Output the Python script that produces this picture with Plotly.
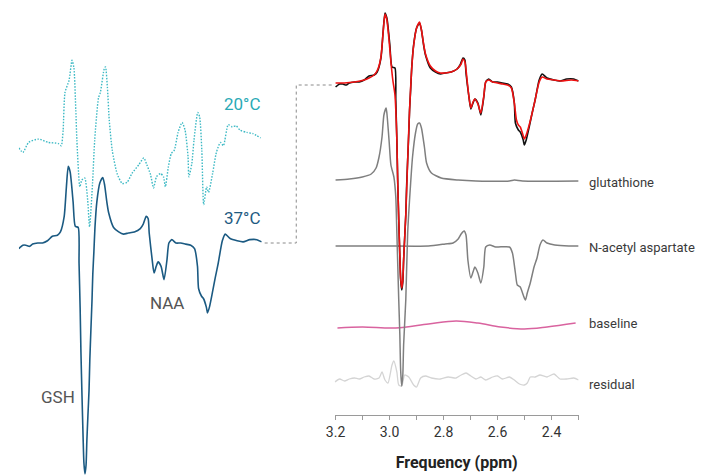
import plotly.graph_objects as go

# ---------------- measured spectra (ppm, intensity in a.u.) ----------------
# In-vivo spectrum at 37 °C (also shown as the fitted data on the right)
ppm_data = [3.200, 3.185, 3.174, 3.160, 3.149, 3.130, 3.112, 3.094, 3.076, 3.057,
            3.046, 3.032, 3.024, 3.017, 3.010, 2.999, 2.991, 2.980, 2.977, 2.973,
            2.970, 2.966, 2.962, 2.959, 2.955, 2.951, 2.948, 2.944, 2.940, 2.937,
            2.933, 2.929, 2.926, 2.922, 2.918, 2.911, 2.900, 2.889, 2.882, 2.874,
            2.867, 2.849, 2.830, 2.812, 2.794, 2.772, 2.750, 2.739, 2.728, 2.721,
            2.717, 2.706, 2.699, 2.691, 2.684, 2.673, 2.662, 2.651, 2.644, 2.633,
            2.618, 2.600, 2.582, 2.563, 2.549, 2.538, 2.534, 2.523, 2.516, 2.505,
            2.501, 2.494, 2.483, 2.472, 2.461, 2.446, 2.435, 2.417, 2.391, 2.369,
            2.344, 2.318, 2.300]
int_data = [-5, -2, -2, -3, -1, 0, 0, 2, 6, 7,
            10, 24, 50, 69, 64, 37, 15, 14, -18, -58,
            -98, -138, -175, -198, -208, -200, -178, -155, -133, -105,
            -78, -52, -28, -8, 14, 37, 54, 59, 52, 37,
            27, 14, 10, 8, 9, 10, 13, 17, 24, 22,
            9, -15, -27, -21, -17, -21, -33, -15, 0, 3,
            0, 0, -1, -2, -5, -21, -41, -48, -50, -58,
            -63, -58, -45, -31, -18, 2, 8, 4, 2, 1,
            3, 3, 1]

# Model fit
ppm_fit = [3.200, 3.167, 3.130, 3.094, 3.076, 3.057, 3.043, 3.032, 3.024, 3.017,
           3.010, 3.002, 2.995, 2.988, 2.980, 2.973, 2.970, 2.966, 2.962, 2.959,
           2.955, 2.951, 2.948, 2.940, 2.933, 2.926, 2.918, 2.911, 2.900, 2.889,
           2.882, 2.874, 2.867, 2.849, 2.830, 2.812, 2.794, 2.772, 2.750, 2.735,
           2.728, 2.721, 2.713, 2.706, 2.699, 2.691, 2.684, 2.673, 2.662, 2.651,
           2.644, 2.633, 2.618, 2.582, 2.563, 2.549, 2.538, 2.530, 2.523, 2.516,
           2.508, 2.501, 2.494, 2.483, 2.472, 2.461, 2.446, 2.435, 2.417, 2.391,
           2.364, 2.327, 2.300]
int_fit = [-1, -1, 0, 2, 4, 7, 13, 25, 49, 68,
           62, 42, 20, 2, -13, -58, -98, -138, -173, -196,
           -206, -198, -178, -133, -78, -28, 14, 36, 54, 60,
           52, 38, 28, 16, 11, 9, 9, 10, 13, 18,
           23, 20, 2, -15, -26, -20, -17, -22, -31, -14,
           0, 2, 0, -2, -3, -6, -21, -38, -43, -45,
           -51, -57, -53, -43, -31, -18, 0, 5, 3, 2,
           1, 2, 1]

# Glutathione component
ppm_gsh = [3.200, 3.149, 3.101, 3.068, 3.050, 3.039, 3.028, 3.021, 3.013, 3.010,
           3.002, 2.995, 2.984, 2.977, 2.973, 2.966, 2.962, 2.959, 2.955, 2.951,
           2.948, 2.940, 2.933, 2.922, 2.915, 2.904, 2.896, 2.889, 2.882, 2.871,
           2.863, 2.845, 2.809, 2.746, 2.680, 2.556, 2.538, 2.508, 2.300]
int_gsh = [0, 1, 3, 6, 12, 23, 43, 65, 72, 67,
           40, 15, 3, -17, -53, -120, -155, -190, -206, -195,
           -165, -120, -53, -3, 23, 47, 56, 57, 52, 33,
           17, 7, 2, 0, -1, -1, 0, -1, -1]

# N-acetyl aspartate component
ppm_naa = [3.200, 3.021, 2.856, 2.794, 2.765, 2.746, 2.735, 2.724, 2.717, 2.710,
           2.699, 2.691, 2.684, 2.673, 2.662, 2.651, 2.644, 2.629, 2.607, 2.556,
           2.545, 2.534, 2.527, 2.516, 2.505, 2.497, 2.490, 2.479, 2.465, 2.454,
           2.443, 2.432, 2.417, 2.388, 2.336, 2.300]
int_naa = [0, 0, 0, 2, 3, 7, 12, 15, 11, -14,
           -32, -26, -21, -27, -37, -21, -1, 1, -1, -1,
           -7, -27, -39, -41, -49, -54, -47, -37, -21, -12,
           1, 6, 3, 1, 0, 0]

# Baseline component
ppm_base = [3.193, 3.101, 2.977, 2.856, 2.754, 2.673, 2.589, 2.501, 2.417, 2.311]
int_base = [-3, -2, -3, 1, 4, 2, -2, -4, -2, 2]

# Residual
ppm_res = [3.203, 3.185, 3.167, 3.149, 3.130, 3.112, 3.094, 3.076, 3.057, 3.039,
           3.028, 3.017, 3.006, 2.991, 2.984, 2.973, 2.966, 2.955, 2.944, 2.929,
           2.911, 2.900, 2.885, 2.867, 2.845, 2.812, 2.783, 2.754, 2.735, 2.717,
           2.699, 2.680, 2.662, 2.644, 2.618, 2.600, 2.582, 2.556, 2.538, 2.519,
           2.501, 2.490, 2.479, 2.461, 2.443, 2.417, 2.391, 2.369, 2.344, 2.318,
           2.300]
int_res = [-2, 1, -1, 1, 2, 1, 3, 4, 1, 2,
           8, 0, -3, 15, 19, 8, -5, -6, 5, 3,
           -5, -7, 2, 4, 2, 1, 3, 2, 5, 7,
           4, 1, 3, 0, 3, 4, 1, 3, 0, -4,
           -5, -3, 3, 3, 5, 3, 6, 1, 1, 2,
           0]

# Spectrum acquired at 20 °C
ppm_20 = [3.200, 3.185, 3.164, 3.127, 3.091, 3.054, 3.043, 3.036, 3.029, 3.014,
          3.003, 2.996, 2.989, 2.985, 2.974, 2.967, 2.956, 2.945, 2.938, 2.927,
          2.919, 2.905, 2.898, 2.883, 2.879, 2.872, 2.865, 2.854, 2.836, 2.817,
          2.799, 2.781, 2.755, 2.737, 2.726, 2.712, 2.701, 2.690, 2.675, 2.664,
          2.657, 2.646, 2.635, 2.624, 2.610, 2.595, 2.584, 2.573, 2.570, 2.559,
          2.551, 2.537, 2.530, 2.522, 2.515, 2.504, 2.497, 2.482, 2.468, 2.453,
          2.442, 2.424, 2.409, 2.395, 2.380, 2.355, 2.333, 2.304]
int_20 = [0, -4, 5, 8, 5, 4, 2, 16, 50, 61,
          79, 72, 34, 7, -35, -29, -27, -47, -71, -32,
          7, 45, 50, 72, 73, 55, 25, -2, -23, -32,
          -31, -23, -15, -9, -15, -24, -36, -26, -23, -26,
          -35, -17, -5, -2, 14, 23, 16, -8, -26, -14,
          7, 32, 28, -2, -51, -35, -40, -23, -4, 5,
          2, 21, 19, 20, 16, 14, 13, 9]

# Axis ticks and labels
tick_ppm = [3.2, 3.1, 3.0, 2.9, 2.8, 2.7, 2.6, 2.5, 2.4, 2.3]
tick_txt = ["3.2", "", "3.0", "", "2.8", "", "2.6", "", "2.4", ""]
component_names = ["glutathione", "N-acetyl aspartate", "baseline", "residual"]

# ---------------- layout constants ----------------
W, H = 701, 475
FONT = "Roboto, Liberation Sans, sans-serif"

# vertical stacking of the traces in the right panel
off_data, off_gsh, off_naa, off_base, off_res = 333, 235, 169, 90, 35
# vertical placement of the two spectra in the left panel
off_37, off_20 = 0, 85.6


def shift(vals, off):
    return [v + off for v in vals]


fig = go.Figure()

# ---- left panel: temperature comparison ----
fig.add_trace(go.Scatter(x=ppm_20, y=shift(int_20, off_20), mode="lines",
                         line=dict(color="#3cb9c4", width=1.4, dash="1.5px,1.5px",
                                   shape="spline", smoothing=0.6),
                         xaxis="x", yaxis="y", hoverinfo="skip"))
fig.add_trace(go.Scatter(x=ppm_data, y=shift(int_data, off_37), mode="lines",
                         line=dict(color="#1b5a82", width=1.6, shape="spline", smoothing=0.6),
                         xaxis="x", yaxis="y", hoverinfo="skip"))

# ---- right panel: fit decomposition ----
fig.add_trace(go.Scatter(x=ppm_base, y=shift(int_base, off_base), mode="lines",
                         line=dict(color="#d9639f", width=1.5, shape="spline", smoothing=1.0),
                         xaxis="x2", yaxis="y2", hoverinfo="skip"))
fig.add_trace(go.Scatter(x=ppm_res, y=shift(int_res, off_res), mode="lines",
                         line=dict(color="#d4d4d4", width=1.3, shape="spline", smoothing=0.6),
                         xaxis="x2", yaxis="y2", hoverinfo="skip"))
fig.add_trace(go.Scatter(x=ppm_naa, y=shift(int_naa, off_naa), mode="lines",
                         line=dict(color="#7f7f7f", width=1.5, shape="spline", smoothing=0.6),
                         xaxis="x2", yaxis="y2", hoverinfo="skip"))
fig.add_trace(go.Scatter(x=ppm_gsh, y=shift(int_gsh, off_gsh), mode="lines",
                         line=dict(color="#7f7f7f", width=1.5, shape="spline", smoothing=0.6),
                         xaxis="x2", yaxis="y2", hoverinfo="skip"))
fig.add_trace(go.Scatter(x=ppm_data, y=shift(int_data, off_data), mode="lines",
                         line=dict(color="#111111", width=1.6, shape="spline", smoothing=0.6),
                         xaxis="x2", yaxis="y2", hoverinfo="skip"))
fig.add_trace(go.Scatter(x=ppm_fit, y=shift(int_fit, off_data), mode="lines",
                         line=dict(color="#ee1111", width=1.6, shape="spline", smoothing=0.6),
                         xaxis="x2", yaxis="y2", hoverinfo="skip"))

# component labels
for name, off, dy in zip(component_names, [off_gsh, off_naa, off_base, off_res], [-2, -1, 2, -4]):
    fig.add_annotation(x=586 / W, xref="paper", y=off, yref="y2", yshift=dy,
                       text=name, showarrow=False, xanchor="left", yanchor="middle",
                       font=dict(family=FONT, size=13, color="#3a3a3a"))

# left-panel labels
for txt, px, py, col in [("20°C", 237, 104, "#2aaab6"), ("37°C", 237, 218, "#1e5b82"),
                         ("NAA", 160, 303, "#555555"), ("GSH", 50, 397, "#555555")]:
    fig.add_annotation(x=px / W, y=1 - py / H, xref="paper", yref="paper", text=txt,
                       showarrow=False, xanchor="center", yanchor="middle",
                       font=dict(family=FONT, size=17, color=col))

# dotted connector from the 37 °C spectrum to the fitted data
pts = [(259, 243), (291, 243), (291, 85), (329, 85)]
path = "M " + " L ".join(f"{x / W:.5f},{1 - y / H:.5f}" for x, y in pts)
fig.add_shape(type="path", path=path, xref="paper", yref="paper",
              line=dict(color="#8a8a8a", width=1, dash="dot"))

fig.update_layout(
    width=W, height=H, margin=dict(l=0, r=0, t=0, b=0),
    paper_bgcolor="white", plot_bgcolor="rgba(0,0,0,0)", showlegend=False,
    xaxis=dict(domain=[10 / W, 256 / W], range=[3.2, 2.3], visible=False),
    yaxis=dict(domain=[0, 1], range=[-209.0, 218.9], visible=False),
    xaxis2=dict(domain=[330 / W, 577 / W], range=[3.203, 2.3], anchor="y2",
                showline=True, linecolor="#9a9a9a", linewidth=1, showgrid=False, zeroline=False,
                ticks="outside", ticklen=4, tickcolor="#9a9a9a",
                tickvals=tick_ppm, ticktext=tick_txt,
                tickfont=dict(family=FONT, size=14, color="#333333"),
                title=dict(text="<b>Frequency (ppm)</b>", standoff=18,
                           font=dict(family=FONT, size=16, color="#222222"))),
    yaxis2=dict(domain=[60 / H, 1], range=[0, 415], visible=False),
)

fig.write_html("out.html")
